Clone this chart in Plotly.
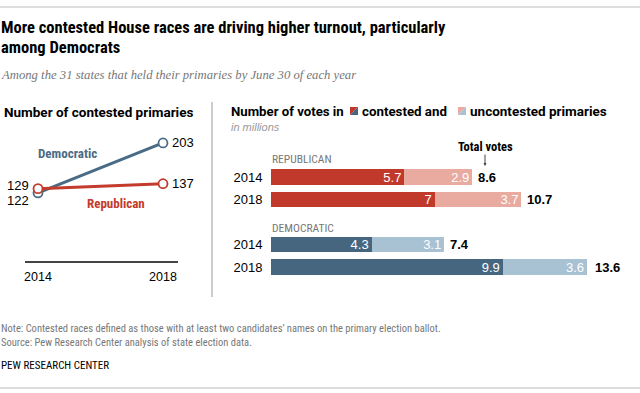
import plotly.graph_objects as go

W, H = 640, 393
def PX(x): return x / W
def PY(y): return 1 - y / H

# ---- data ----
years = [2014, 2018]
dem_contested_primaries = [122, 203]
rep_contested_primaries = [129, 137]

bar_cats = ["Republican 2014", "Republican 2018", "gap", "Democratic 2014", "Democratic 2018"]
bar_ticktext = ["2014", "2018", "", "2014", "2018"]
rep_contested_votes = [5.7, 7.0]
rep_uncontested_votes = [2.9, 3.7]
dem_contested_votes = [4.3, 9.9]
dem_uncontested_votes = [3.1, 3.6]
rep_totals = [8.6, 10.7]
dem_totals = [7.4, 13.6]

# ---- styles ----
BLUE = "#4a6b85"
RED = "#c23b2b"
DEM_DARK = "#46667f"
DEM_LIGHT = "#a9c2d3"
REP_DARK = "#c0392b"
REP_LIGHT = "#e9aaa0"
NARROW = "Liberation Sans Narrow, Arial Narrow, Roboto Condensed, sans-serif"
HEAD = "Roboto, Liberation Sans, sans-serif"
SANS = "Liberation Sans, Arial, sans-serif"
SERIF = "Liberation Serif, Georgia, serif"

fig = go.Figure()

# ---- left: line chart ----
fig.add_trace(go.Scatter(x=years, y=dem_contested_primaries, mode="lines+markers",
                         line=dict(color=BLUE, width=3),
                         marker=dict(size=9, color="white", line=dict(color=BLUE, width=1.8)),
                         xaxis="x", yaxis="y", hoverinfo="skip"))
fig.add_trace(go.Scatter(x=years, y=rep_contested_primaries, mode="lines+markers",
                         line=dict(color=RED, width=3),
                         marker=dict(size=9, color="white", line=dict(color=RED, width=1.8)),
                         xaxis="x", yaxis="y", hoverinfo="skip"))

# ---- right: stacked bars ----
rep_c = rep_contested_votes + [None, None, None]
rep_u = rep_uncontested_votes + [None, None, None]
dem_c = [None, None, None] + dem_contested_votes
dem_u = [None, None, None] + dem_uncontested_votes

def fmt(v):
    return "" if v is None else ("%g" % v)

for vals, col in [(rep_c, REP_DARK), (dem_c, DEM_DARK), (rep_u, REP_LIGHT), (dem_u, DEM_LIGHT)]:
    fig.add_trace(go.Bar(y=bar_cats, x=vals, orientation="h", marker=dict(color=col, line=dict(width=0)),
                         text=[fmt(v) for v in vals], textposition="inside", insidetextanchor="end",
                         constraintext="none", textangle=0,
                         textfont=dict(color="white", size=13, family=SANS), width=0.68,
                         xaxis="x2", yaxis="y2", hoverinfo="skip", cliponaxis=False))

annotations = []
shapes = []

# totals
for cat, tot in list(zip(bar_cats[:2], rep_totals)) + list(zip(bar_cats[3:], dem_totals)):
    annotations.append(dict(x=tot, y=cat, xref="x2", yref="y2", text="<b>%g</b>" % tot,
                            showarrow=False, xanchor="left", xshift=4,
                            font=dict(size=13, color="black", family=SANS)))

# line end labels
for yv in [dem_contested_primaries[1], rep_contested_primaries[1]]:
    annotations.append(dict(x=years[1], y=yv, xref="x", yref="y", text=str(yv), showarrow=False,
                            xanchor="left", xshift=7, font=dict(size=13, color="black", family=SANS)))
annotations.append(dict(x=years[0], y=rep_contested_primaries[0], xref="x", yref="y",
                        text=str(rep_contested_primaries[0]), showarrow=False, xanchor="right",
                        xshift=-7, yshift=3, font=dict(size=13, color="black", family=SANS)))
annotations.append(dict(x=years[0], y=dem_contested_primaries[0], xref="x", yref="y",
                        text=str(dem_contested_primaries[0]), showarrow=False, xanchor="right",
                        xshift=-7, yshift=-8, font=dict(size=13, color="black", family=SANS)))

def txt(x, y, text, size=12, color="black", family=SANS, xanchor="left"):
    annotations.append(dict(x=PX(x), y=PY(y), xref="paper", yref="paper", text=text,
                            showarrow=False, xanchor=xanchor, yanchor="middle", borderpad=0,
                            font=dict(size=size, color=color, family=family)))

# series labels
txt(37, 153, "<b>Democratic</b>", 13, BLUE, NARROW)
txt(86, 203, "<b>Republican</b>", 13, RED, NARROW)

# title + subtitle
txt(0, 27, "<b>More contested House races are driving higher turnout, particularly</b>", 16.5, "black", NARROW)
txt(0, 47, "<b>among Democrats</b>", 16.5, "black", NARROW)
txt(0, 75, "<i>Among the 31 states that held their primaries by June 30 of each year</i>", 12.7, "#777777", SERIF)

# panel headers
txt(3, 112, "<b>Number of contested primaries</b>", 13.5, "black", HEAD)
txt(230, 111, "<b>Number of votes in</b>", 13.2, "black", HEAD)
txt(361, 111, "<b>contested and</b>", 13.3, "black", HEAD)
txt(469, 111, "<b>uncontested primaries</b>", 13.5, "black", HEAD)
txt(230, 127, "<i>in millions</i>", 11, "#999999", SANS)

# group labels
txt(271, 159, "REPUBLICAN", 11.5, "#777777", NARROW)
txt(271, 228, "DEMOCRATIC", 11.5, "#777777", NARROW)

# total votes label + arrow
txt(485, 146, "<b>Total votes</b>", 12.5, "black", NARROW, xanchor="center")
annotations.append(dict(x=PX(485), y=PY(166), xref="paper", yref="paper", text="", showarrow=True,
                        ax=0, ay=-13, arrowhead=2, arrowsize=0.6, arrowwidth=1, arrowcolor="#444"))

# footer
txt(0, 328, "Note: Contested races defined as those with at least two candidates\u2019 names on the primary election ballot.", 10.5, "#777777", NARROW)
txt(0, 342, "Source: Pew Research Center analysis of state election data.", 10.5, "#777777", NARROW)
txt(0, 365, "PEW RESEARCH CENTER", 11, "black", NARROW)

# rules
shapes.append(dict(type="line", xref="paper", yref="paper", x0=0, x1=1, y0=PY(7), y1=PY(7),
                   line=dict(color="#bbbbbb", width=1)))
shapes.append(dict(type="line", xref="paper", yref="paper", x0=0, x1=1, y0=PY(388), y1=PY(388),
                   line=dict(color="#bbbbbb", width=1)))
shapes.append(dict(type="line", xref="paper", yref="paper", x0=PX(212), x1=PX(212), y0=PY(102), y1=PY(297),
                   line=dict(color="#999999", width=1)))

# legend icons (diagonally split squares)
def icon(x0, y0, c1, c2, s=8):
    a, b = PX(x0), PX(x0 + s)
    t, u = PY(y0), PY(y0 + s)
    shapes.append(dict(type="path", xref="paper", yref="paper",
                       path=f"M {a} {t} L {b} {t} L {a} {u} Z", fillcolor=c1, line=dict(width=0)))
    shapes.append(dict(type="path", xref="paper", yref="paper",
                       path=f"M {b} {t} L {b} {u} L {a} {u} Z", fillcolor=c2, line=dict(width=0)))
icon(350, 107, REP_DARK, DEM_DARK)
icon(458, 107, REP_LIGHT, DEM_LIGHT)

fig.update_layout(
    width=W, height=H, margin=dict(l=0, r=0, t=0, b=0),
    paper_bgcolor="white", plot_bgcolor="white", showlegend=False, barmode="stack",
    font=dict(family=SANS, size=12, color="black"),
    xaxis=dict(domain=[PX(25), PX(178)], range=[2013.584, 2018.48], tickvals=years,
               ticktext=[str(y) for y in years], showgrid=False, zeroline=False,
               showline=True, linecolor="#444444", linewidth=1.5, ticks="outside", ticklen=3,
               tickcolor="rgba(0,0,0,0)", tickfont=dict(size=12.5, family=SANS)),
    yaxis=dict(domain=[PY(261), PY(130)], range=[11.8, 224], visible=False),
    xaxis2=dict(domain=[PX(271), PX(620)], range=[0, 14.91], visible=False),
    yaxis2=dict(domain=[PY(278.25), PY(165.75)], type="category", categoryarray=bar_cats,
                categoryorder="array", autorange="reversed", tickvals=bar_cats, ticktext=bar_ticktext,
                showgrid=False, zeroline=False, showline=False, ticks="outside", ticklen=5,
                tickcolor="rgba(0,0,0,0)", tickfont=dict(size=13, family=SANS), anchor="x2"),
    annotations=annotations, shapes=shapes,
)

fig.write_html("out.html", config={"displayModeBar": False, "staticPlot": True},
               post_script="document.body.style.margin='0px';document.body.style.padding='0px';")
